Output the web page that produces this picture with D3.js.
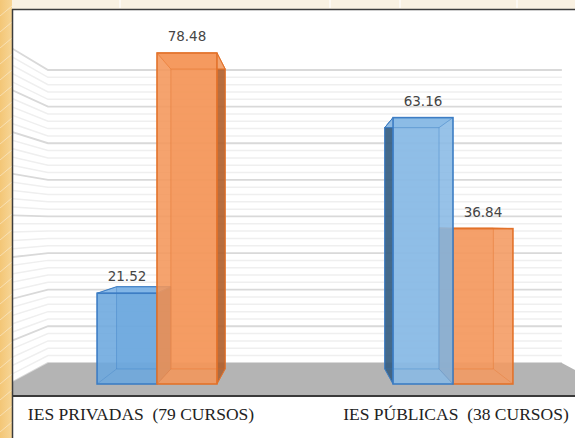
<!DOCTYPE html>
<html><head><meta charset="utf-8">
<script src="https://cdn.jsdelivr.net/npm/d3@7"></script>
<style>body{margin:0;background:#fff;overflow:hidden} svg{display:block}</style>
</head><body>
<svg id="chart" width="575" height="438"></svg>
<script>
// ---- data ----
const categories = ["IES PRIVADAS  (79 CURSOS)", "IES PÚBLICAS  (38 CURSOS)"];
const seriesKeys = ["azul", "naranja"];
const valuesAzul = [21.52, 63.16];
const valuesNaranja = [78.48, 36.84];
const yMax = 80;
const majorStep = 10;
const minorStep = 2;

// ---- layout / projection ----
const W = 575, H = 438;
const svg = d3.select("#chart");
const vp = [304.5, 224];          // vanishing point
const sWall = 0.868;              // back wall depth factor
const sBar = 0.906;               // bar back-face depth factor
const P = (x, y, s) => [vp[0] + s * (x - vp[0]), vp[1] + s * (y - vp[1])];

const x0 = d3.scaleBand().domain(categories).range([9, 601]).padding(0);
const groupW = x0.bandwidth() * 0.405;
const xs = d3.scaleBand().domain(seriesKeys).range([0, groupW]).padding(0);
const yF = d3.scaleLinear().domain([0, yMax]).range([384, 46.6]);

const colors = {
  azul:    {front: "#6ba7de", edge: "#3d7dc4", side: "#2f5679", top: "#7db3e6", lighten: [0, 0.2]},
  naranja: {front: "#f4965a", edge: "#e3722a", side: "#a85826", top: "#f7aa76", lighten: [0, 0.04]}
};

// ---- outer decoration ----
const defs = svg.append("defs");
const lg = defs.append("linearGradient").attr("id", "band").attr("x1", 0).attr("x2", 1);
lg.append("stop").attr("offset", 0).attr("stop-color", "#f3c676");
lg.append("stop").attr("offset", 1).attr("stop-color", "#f7d595");
svg.append("rect").attr("width", W).attr("height", H).attr("fill", "#f9f1e2");
svg.append("rect").attr("x", 0).attr("y", 0).attr("width", 12).attr("height", H).attr("fill", "url(#band)");
const deco = svg.append("g").attr("stroke", "#fff").attr("stroke-opacity", 0.4).attr("stroke-width", 1);
d3.range(-2, 30).forEach(i => {
  deco.append("line").attr("x1", 0).attr("y1", i * 16).attr("x2", 12).attr("y2", i * 16 - 10);
});
[120, 330, 400, 517].forEach(x => {
  svg.append("line").attr("x1", x).attr("x2", x).attr("y1", 0).attr("y2", 8)
    .attr("stroke", "#fff").attr("stroke-width", 1.2);
});

// ---- plot area ----
svg.append("rect").attr("x", 12).attr("y", 9).attr("width", W - 12).attr("height", H - 9).attr("fill", "#fff");
defs.append("clipPath").attr("id", "plotclip").append("rect")
  .attr("x", 13).attr("y", 10).attr("width", W - 13).attr("height", 385);
const plot = svg.append("g").attr("clip-path", "url(#plotclip)");

// gridlines (back wall + left wall)
const gridVals = d3.range(0, yMax + 0.001, minorStep);
const xL = x0.range()[0], xR = x0.range()[1];
gridVals.forEach(v => {
  const major = Math.abs(v % majorStep) < 1e-6;
  const yf = yF(v);
  const bl = P(xL, yf, sWall), br = P(xR, yf, sWall);
  const path = d3.path();
  path.moveTo(xL, yf); path.lineTo(bl[0], bl[1]); path.lineTo(br[0], br[1]);
  plot.append("path").attr("d", path.toString()).attr("fill", "none")
    .attr("stroke", major ? "#d9d9d9" : "#efefef").attr("stroke-width", major ? 1.8 : 1.5);
});

// floor
const f0 = yF(0);
const fbl = P(xL, f0, sWall), fbr = P(xR, f0, sWall);
plot.append("path")
  .attr("d", d3.line()([[xL, f0], [fbl[0], fbl[1]], [fbr[0], fbr[1]], [xR, f0], [xR, 396], [xL, 396]]) + "Z")
  .attr("fill", "#b4b4b4");

// ---- bars ----
const bars = [];
categories.forEach((c, i) => {
  [["azul", valuesAzul[i]], ["naranja", valuesNaranja[i]]].forEach(([k, v]) => {
    const fx0 = x0(c) + (x0.bandwidth() - groupW) / 2 + xs(k);
    const fx1 = fx0 + xs.bandwidth();
    bars.push({c, i, k, v, fx0, fx1, fyT: yF(v), fyB: yF(0)});
  });
});
bars.sort((a, b) => Math.abs((b.fx0 + b.fx1) / 2 - vp[0]) - Math.abs((a.fx0 + a.fx1) / 2 - vp[0]));

const barG = plot.append("g");
bars.forEach(b => {
  const col = colors[b.k];
  const lt = col.lighten[b.i];
  const fr = d3.interpolateRgb(col.front, "#ffffff")(lt);
  const g = barG.append("g");
  const btl = P(b.fx0, b.fyT, sBar), btr = P(b.fx1, b.fyT, sBar);
  const bbl = P(b.fx0, b.fyB, sBar), bbr = P(b.fx1, b.fyB, sBar);
  const ftl = [b.fx0, b.fyT], ftr = [b.fx1, b.fyT], fbl2 = [b.fx0, b.fyB], fbr2 = [b.fx1, b.fyB];
  const poly = pts => d3.line()(pts) + "Z";
  // back face
  g.append("path").attr("d", poly([btl, btr, bbr, bbl])).attr("fill", fr).attr("fill-opacity", 0.55)
    .attr("stroke", col.edge).attr("stroke-opacity", 0.45).attr("stroke-width", 1);
  // side face
  if (btl[0] < b.fx0) {
    g.append("path").attr("d", poly([ftl, btl, bbl, fbl2])).attr("fill", col.side).attr("fill-opacity", 0.85)
      .attr("stroke", col.edge).attr("stroke-width", 1);
  }
  if (btr[0] > b.fx1) {
    g.append("path").attr("d", poly([ftr, btr, bbr, fbr2])).attr("fill", col.side).attr("fill-opacity", 0.8)
      .attr("stroke", col.edge).attr("stroke-width", 1);
  }
  // top face
  g.append("path").attr("d", poly([ftl, ftr, btr, btl])).attr("fill", d3.interpolateRgb(col.top, "#fff")(lt))
    .attr("fill-opacity", 0.9).attr("stroke", col.edge).attr("stroke-width", 1);
  // front face
  g.append("rect").attr("x", b.fx0).attr("y", b.fyT).attr("width", b.fx1 - b.fx0).attr("height", b.fyB - b.fyT)
    .attr("fill", fr).attr("fill-opacity", 0.88).attr("stroke", col.edge).attr("stroke-width", 1.6);
  // inner (back) edges seen through
  const inner = d3.path();
  inner.moveTo(btl[0], btl[1]); inner.lineTo(btr[0], btr[1]); inner.lineTo(bbr[0], bbr[1]);
  inner.lineTo(bbl[0], bbl[1]); inner.closePath();
  [[ftl, btl], [ftr, btr], [fbl2, bbl], [fbr2, bbr]].forEach(([a, c]) => { inner.moveTo(a[0], a[1]); inner.lineTo(c[0], c[1]); });
  g.append("path").attr("d", inner.toString()).attr("fill", "none").attr("stroke", col.edge)
    .attr("stroke-opacity", 0.35).attr("stroke-width", 1);
});

// value labels
const fmt = d3.format(".2f");
svg.append("g").selectAll("text").data(bars).join("text")
  .attr("x", d => (d.fx0 + d.fx1) / 2).attr("y", d => d.fyT - 12)
  .attr("text-anchor", "middle").attr("font-family", "DejaVu Sans, sans-serif").attr("font-size", 13.5)
  .attr("fill", "#454545").text(d => fmt(d.v));

// ---- frame & axis line ----
svg.append("line").attr("x1", 12).attr("x2", W).attr("y1", 396).attr("y2", 396).attr("stroke", "#3a3a3a").attr("stroke-width", 2);
svg.append("line").attr("x1", 12.5).attr("x2", 12.5).attr("y1", 9).attr("y2", H).attr("stroke", "#3c3c3c").attr("stroke-width", 1.5);
svg.append("line").attr("x1", 12).attr("x2", W).attr("y1", 9.5).attr("y2", 9.5).attr("stroke", "#3c3c3c").attr("stroke-width", 1.5);

// category labels
const labelShift = [-16, 3];
svg.append("g").selectAll("text").data(categories).join("text")
  .attr("x", (d, i) => x0(d) + x0.bandwidth() / 2 + labelShift[i]).attr("y", 420)
  .attr("text-anchor", "middle").attr("font-family", "Liberation Serif, serif").attr("font-size", 17.5)
  .attr("fill", "#222").style("white-space", "pre").text(d => d);
</script>
</body></html>
